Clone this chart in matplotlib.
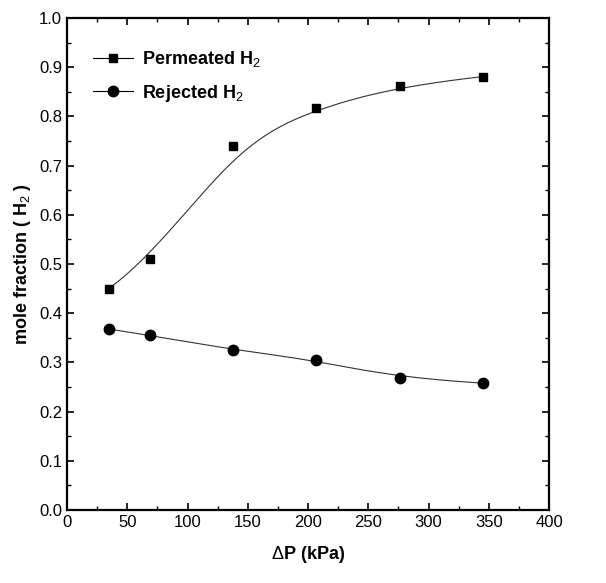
import numpy as np
import matplotlib
matplotlib.use("Agg")
import matplotlib.pyplot as plt
from matplotlib.ticker import MultipleLocator, FormatStrFormatter

plt.rcParams['font.family'] = ['Liberation Sans', 'DejaVu Sans']
plt.rcParams['mathtext.fontset'] = 'custom'
plt.rcParams['mathtext.rm'] = 'Liberation Sans'
plt.rcParams['mathtext.bf'] = 'Liberation Sans:bold'

# pressure difference (kPa)
dp = [34.5, 69, 138, 207, 276, 345]
permeated_h2 = [0.45, 0.51, 0.74, 0.818, 0.862, 0.881]
rejected_h2 = [0.368, 0.355, 0.325, 0.305, 0.268, 0.258]


def bspline(x, y, k=3, num=300):
    # clamped cubic B-spline using the data points as control points
    P = np.column_stack([x, y]).astype(float)
    n = len(P)
    knots = np.concatenate([np.zeros(k), np.arange(n - k + 1), np.full(k, n - k)]).astype(float)
    ts = np.linspace(0, n - k, num)
    ts[-1] -= 1e-9

    def basis(i, d, t):
        if d == 0:
            return 1.0 if knots[i] <= t < knots[i + 1] else 0.0
        a = 0.0
        if knots[i + d] != knots[i]:
            a = (t - knots[i]) / (knots[i + d] - knots[i]) * basis(i, d - 1, t)
        b = 0.0
        if knots[i + d + 1] != knots[i + 1]:
            b = (knots[i + d + 1] - t) / (knots[i + d + 1] - knots[i + 1]) * basis(i + 1, d - 1, t)
        return a + b

    out = np.array([sum(basis(i, k, t) * P[i] for i in range(n)) for t in ts])
    return out[:, 0], out[:, 1]


fig = plt.figure(figsize=(6.06, 5.83), dpi=100)
ax = fig.add_axes([0.1106, 0.1252, 0.7954, 0.8438])

px, py = bspline(dp, permeated_h2)
rx, ry = bspline(dp, rejected_h2)

ax.plot(px, py, color='#333333', lw=0.8)
ax.plot(rx, ry, color='#333333', lw=0.8)
ax.plot(dp, permeated_h2, 's', color='black', ms=6)
ax.plot(dp, rejected_h2, 'o', color='black', ms=7.5)

# legend handles with line through markers
h1, = ax.plot([], [], 's-', color='black', ms=6, lw=0.8)
h2, = ax.plot([], [], 'o-', color='black', ms=7.5, lw=0.8)
ax.legend([h1, h2], [r'Permeated H$_2$', r'Rejected H$_2$'],
          loc='upper left', bbox_to_anchor=(0.02, 0.97), frameon=False,
          handlelength=2.2, handletextpad=0.5, labelspacing=0.75,
          prop={'weight': 'bold', 'size': 13})

ax.set_xlim(0, 400)
ax.set_ylim(0, 1.0)
ax.xaxis.set_major_locator(MultipleLocator(50))
ax.xaxis.set_minor_locator(MultipleLocator(25))
ax.yaxis.set_major_locator(MultipleLocator(0.1))
ax.yaxis.set_minor_locator(MultipleLocator(0.05))
ax.yaxis.set_major_formatter(FormatStrFormatter('%.1f'))
ax.tick_params(which='both', direction='in', top=True, right=True, labelsize=12)
ax.tick_params(which='major', length=5, width=1.2)
ax.tick_params(which='minor', length=3, width=1)
for s in ax.spines.values():
    s.set_linewidth(1.6)

ax.set_xlabel(r'$\Delta$P (kPa)', fontsize=13, fontweight='bold', labelpad=10)
ax.set_ylabel(r'mole fraction ( H$_2$ )', fontsize=13, fontweight='bold', labelpad=4)

fig.savefig('out.png', dpi=100)
